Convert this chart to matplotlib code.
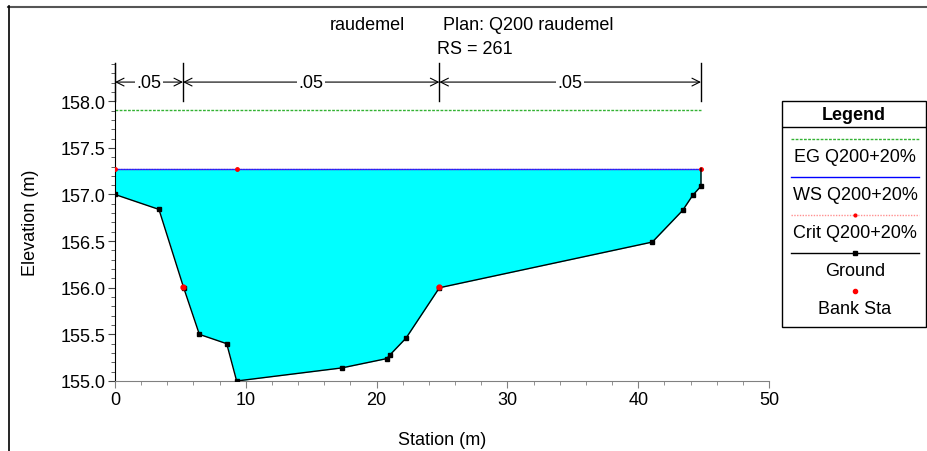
import numpy as np
import matplotlib.pyplot as plt
from matplotlib.lines import Line2D
from matplotlib.patches import Rectangle
from matplotlib.ticker import MultipleLocator, FormatStrFormatter
plt.switch_backend('agg')

plt.rcParams['font.family'] = ['Liberation Sans', 'DejaVu Sans']

# cross section RS 261
sta = [0.0, 3.36, 5.25, 6.45, 8.54, 9.3, 17.33, 20.77, 21.02, 22.25, 24.8,
       41.08, 43.4, 44.16, 44.8, 44.8]
elev = [157.0, 156.84, 156.0, 155.5, 155.4, 155.0, 155.14, 155.24, 155.28,
        155.46, 156.0, 156.49, 156.83, 156.99, 157.09, 157.28]
bank_sta = [5.2, 24.8]
bank_elev = [156.01, 156.01]
n_breaks = [0.0, 5.2, 24.8, 44.8]
n_vals = ['.05', '.05', '.05']
eg = 157.91
ws = 157.27
crit_sta = [0.0, 9.3, 44.8]
crit = 157.27
ws_left, ws_right = 0.0, 44.8

fs = 13
eg_style = dict(color='#33b233', lw=1, ls=(0, (2, 1)))
ws_style = dict(color='#0000ff', lw=1)
crit_style = dict(color='#ff9090', lw=1, ls=(0, (1, 1)))
ground_style = dict(color='black', lw=1, marker='s', ms=3.5)
bank_style = dict(color='red', ls='none', marker='o', ms=3.5)

fig = plt.figure(figsize=(9.27, 4.52), dpi=100)
ax = fig.add_axes([115 / 927, 1 - 382 / 452, (769 - 115) / 927, (382 - 64) / 452])

# water below the water surface
x = np.array(sta)
z = np.array(elev)
ax.fill_between(x, z, ws, where=z <= ws + 0.02, color='#00ffff', lw=0, zorder=1)

ax.plot([ws_left, ws_right], [eg, eg], zorder=2, **eg_style)
ax.plot([ws_left, ws_right], [crit, crit], zorder=3, **crit_style)
ax.plot([ws_left, ws_right], [ws, ws], zorder=3, alpha=0.8, **ws_style)
ax.plot(crit_sta, [crit] * len(crit_sta), ls='none', marker='o', ms=2.5, color='red', zorder=4)
ax.plot(sta, elev, markevery=list(range(len(sta) - 1)), zorder=5, **ground_style)
ax.plot(bank_sta, bank_elev, zorder=6, **bank_style)

# manning's n regions along the top
ytr = ax.get_xaxis_transform()
for xb in n_breaks:
    ax.plot([xb, xb], [0.88, 1.0], color='black', lw=1, transform=ytr, clip_on=False)
for x0, x1, lab in zip(n_breaks[:-1], n_breaks[1:], n_vals):
    ax.annotate('', xy=(x1, 0.94), xytext=(x0, 0.94), xycoords=ytr, textcoords=ytr,
                arrowprops=dict(arrowstyle='<->', lw=0.8, shrinkA=0, shrinkB=0,
                                mutation_scale=14, color='black'))
    ax.text((x0 + x1) / 2, 0.94, lab, transform=ytr, ha='center', va='center',
            fontsize=fs, bbox=dict(facecolor='white', edgecolor='none', pad=1))

ax.set_xlim(0, 50)
ax.set_ylim(155.0, 158.41)
ax.xaxis.set_major_locator(MultipleLocator(10))
ax.xaxis.set_minor_locator(MultipleLocator(2))
ax.yaxis.set_major_locator(MultipleLocator(0.5))
ax.yaxis.set_minor_locator(MultipleLocator(0.1))
ax.yaxis.set_major_formatter(FormatStrFormatter('%.1f'))
ax.tick_params(which='major', length=5, labelsize=fs, direction='out', pad=2)
ax.tick_params(which='minor', length=3, direction='out')
ax.tick_params(axis='y', which='both', color='#444444')
ax.tick_params(axis='x', which='both', color='#808080')
for s in ['top', 'right']:
    ax.spines[s].set_visible(False)
ax.spines['bottom'].set_color('#808080')
ax.set_xlabel('Station (m)', fontsize=fs, labelpad=17)
ax.set_ylabel('Elevation (m)', fontsize=fs, labelpad=15)

fig.text(330 / 927, 1 - 25 / 452, 'raudemel', ha='left', va='center', fontsize=fs)
fig.text(443 / 927, 1 - 25 / 452, 'Plan: Q200 raudemel', ha='left', va='center', fontsize=fs)
fig.text(475 / 927, 1 - 49 / 452, 'RS = 261', ha='center', va='center', fontsize=fs)

# legend box
lg = fig.add_axes([782 / 927, 1 - 328 / 452, 145 / 927, 226 / 452])
lg.set_xlim(782, 927)
lg.set_ylim(328, 102)
lg.axis('off')
lg.add_patch(Rectangle((782, 102), 144, 226, fill=False, ec='black', lw=1, clip_on=False))
lg.plot([782, 926], [128, 128], color='black', lw=1)
lg.text(854, 115, 'Legend', ha='center', va='center', fontsize=fs, fontweight='bold')
crit_key = dict(crit_style, marker='o', ms=2, mfc='red', mec='red')
items = [
    ('EG Q200+20%', eg_style),
    ('WS Q200+20%', ws_style),
    ('Crit Q200+20%', crit_key),
    ('Ground', dict(ground_style, ms=3)),
    ('Bank Sta', dict(bank_style, ms=3)),
]
for i, (lab, kw) in enumerate(items):
    yl = 140 + 38 * i
    lg.plot([791, 855, 919], [yl, yl, yl], markevery=[1], **kw)
    lg.text(855, yl + 17, lab, ha='center', va='center', fontsize=fs)

# window frame
fig.add_artist(Line2D([8 / 927, 1], [1 - 7.5 / 452, 1 - 7.5 / 452], color='#555555', lw=1.5))
fig.add_artist(Line2D([8.5 / 927, 8.5 / 927], [0, 1 - 7 / 452], color='black', lw=1.2))

fig.savefig('out.png', dpi=100)
plt.close('all')
